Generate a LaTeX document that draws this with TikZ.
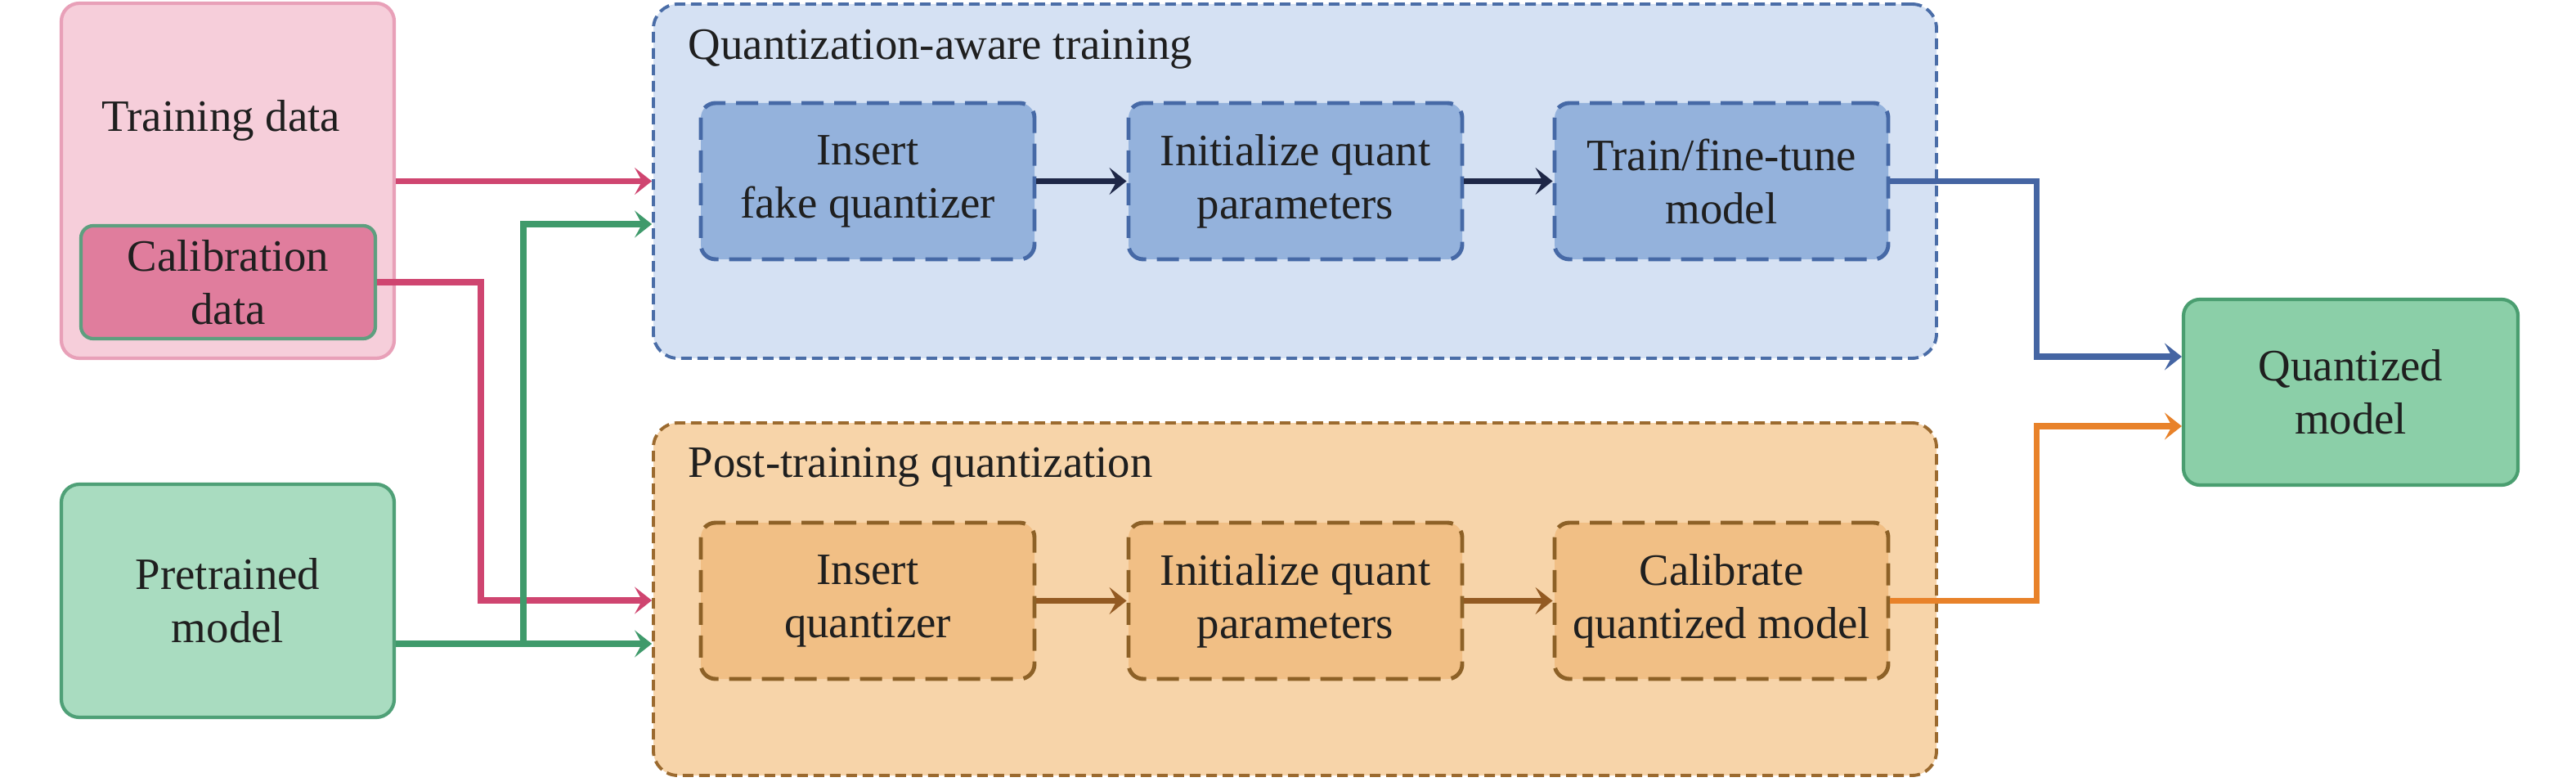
\documentclass[tikz,border=0pt]{standalone}
\usepackage{fontspec}
\setmainfont{Liberation Serif}
\usetikzlibrary{arrows.meta}
\definecolor{pinkfill}{HTML}{F6CEDA}
\definecolor{pinkline}{HTML}{E8A0B8}
\definecolor{calibfill}{HTML}{E07D9D}
\definecolor{calibline}{HTML}{5E9F7F}
\definecolor{prefill}{HTML}{A9DCC0}
\definecolor{preline}{HTML}{4FA077}
\definecolor{quantfill}{HTML}{8BCFA8}
\definecolor{quantline}{HTML}{4A9E70}
\definecolor{qatfill}{HTML}{D5E1F3}
\definecolor{qatline}{HTML}{4A6DA7}
\definecolor{qatinfill}{HTML}{94B2DC}
\definecolor{qatinline}{HTML}{4669A6}
\definecolor{ptqfill}{HTML}{F7D4A9}
\definecolor{ptqline}{HTML}{9B6A2F}
\definecolor{ptqinfill}{HTML}{F1BF85}
\definecolor{ptqinline}{HTML}{8D6127}
\definecolor{redarr}{HTML}{CF4570}
\definecolor{greenarr}{HTML}{3F9A6B}
\definecolor{navyarr}{HTML}{1E2747}
\definecolor{brownarr}{HTML}{935A22}
\definecolor{bluearr}{HTML}{4565A3}
\definecolor{orangearr}{HTML}{E8822A}
\tikzset{
  txt/.style={font=\fontsize{15.6pt}{18.5pt}\selectfont, text=black!88, align=center, inner sep=0pt},
  solidbox/.style={rounded corners=0.22cm, line width=1.2pt, inner sep=0pt, txt},
  outerbox/.style={rounded corners=0.3cm, line width=1.1pt, dash pattern=on 0.13cm off 0.07cm, inner sep=0pt},
  innerbox/.style={rounded corners=0.18cm, line width=1.4pt, dash pattern=on 0.27cm off 0.13cm, inner sep=0pt, txt, minimum width=4.08cm, minimum height=1.91cm},
  conn/.style={line width=2pt, -{Stealth[length=0.21cm, width=0.33cm, inset=0.09cm]}}
}
\begin{document}
\begin{tikzpicture}
\useasboundingbox (0,0) rectangle (31.5,-9.56);
% left boxes
\node[solidbox, draw=pinkline, fill=pinkfill, minimum width=4.07cm, minimum height=4.34cm] (train) at (2.785,-2.21) {};
\node[txt] (traintxt) at (2.70,-1.47) {Training data};
\node[solidbox, draw=calibline, fill=calibfill, rounded corners=0.15cm, minimum width=3.60cm, minimum height=1.38cm] (calib) at (2.79,-3.45) {Calibration\\data};
\node[solidbox, draw=preline, fill=prefill, minimum width=4.07cm, minimum height=2.85cm] (pre) at (2.785,-7.345) {Pretrained\\model};
% outer groups
\node[outerbox, draw=qatline, fill=qatfill, minimum width=15.69cm, minimum height=4.33cm] (qat) at (15.835,-2.215) {};
\node[txt, anchor=base west] (qattitle) at (8.41,-0.73) {Quantization-aware training};
\node[outerbox, draw=ptqline, fill=ptqfill, minimum width=15.69cm, minimum height=4.31cm] (ptq) at (15.835,-7.325) {};
\node[txt, anchor=base west] (ptqtitle) at (8.41,-5.83) {Post-training quantization};
% inner boxes
\node[innerbox, draw=qatinline, fill=qatinfill] (q1) at (10.61,-2.215) {Insert\\fake quantizer};
\node[innerbox, draw=qatinline, fill=qatinfill] (q2) at (15.84,-2.215) {Initialize quant\\parameters};
\node[innerbox, draw=qatinline, fill=qatinfill] (q3) at (21.05,-2.215) {Train/fine-tune\\model};
\node[innerbox, draw=ptqinline, fill=ptqinfill] (p1) at (10.61,-7.345) {Insert\\quantizer};
\node[innerbox, draw=ptqinline, fill=ptqinfill] (p2) at (15.84,-7.345) {Initialize quant\\parameters};
\node[innerbox, draw=ptqinline, fill=ptqinfill] (p3) at (21.05,-7.345) {Calibrate\\quantized model};
% result
\node[solidbox, draw=quantline, fill=quantfill, rounded corners=0.2cm, minimum width=4.09cm, minimum height=2.27cm] (quant) at (28.745,-4.795) {Quantized\\model};
% coordinates
\coordinate (rc) at (5.88,-7.34);
\coordinate (jg) at (6.40,-7.87);
\coordinate (ga) at (6.40,-2.74);
\coordinate (bx) at (24.90,-4.36);
\coordinate (ox) at (24.90,-5.21);
% connectors
\draw[conn, redarr] (train.east |- q1.west) -- (qat.west |- q1.west);
\draw[conn, redarr] (calib.east) -| (rc) -- (ptq.west |- rc);
\draw[conn, greenarr] (pre.east |- jg) -- (ptq.west |- jg);
\draw[conn, greenarr] (jg) -- (ga) -- (qat.west |- ga);
\draw[conn, navyarr] (q1) -- (q2);
\draw[conn, navyarr] (q2) -- (q3);
\draw[conn, brownarr] (p1) -- (p2);
\draw[conn, brownarr] (p2) -- (p3);
\draw[conn, bluearr] (q3.east) -| (bx) -- (quant.west |- bx);
\draw[conn, orangearr] (p3.east) -| (ox) -- (quant.west |- ox);
\end{tikzpicture}
\end{document}
